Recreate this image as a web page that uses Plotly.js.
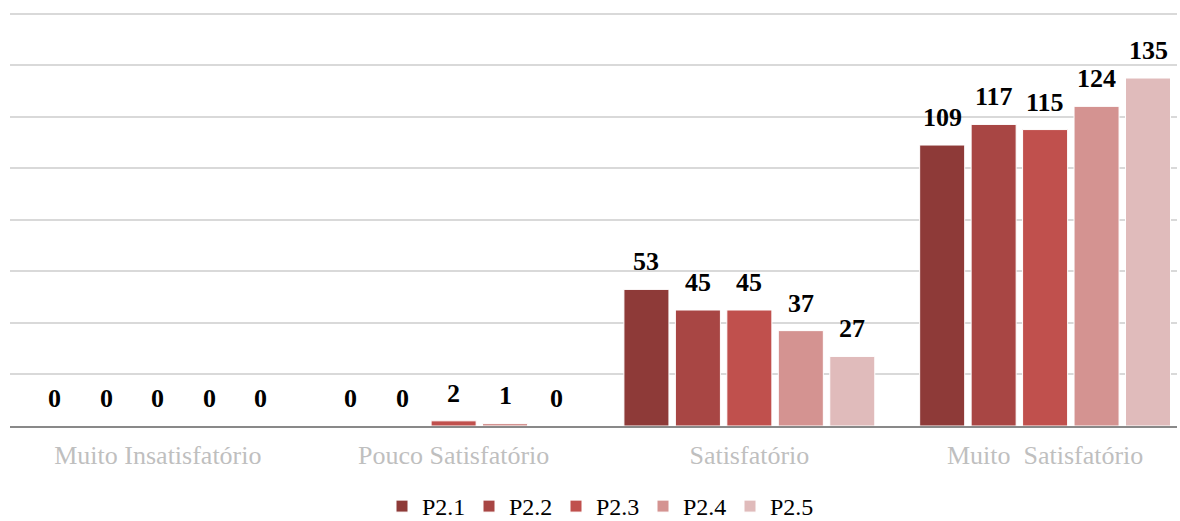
<!DOCTYPE html>
<html>
<head>
<meta charset="utf-8">
<script src="https://cdn.plot.ly/plotly-3.0.1.min.js"></script>
<style>html,body{margin:0;padding:0;background:#fff;}#chart{width:1180px;height:521px;}</style>
</head>
<body>
<div id="chart"></div>
<script>
const categories = ["Muito Insatisfatório", "Pouco Satisfatório", "Satisfatório", "Muito \u00a0Satisfatório"];
const seriesNames = ["P2.1", "P2.2", "P2.3", "P2.4", "P2.5"];
const p21 = [0, 0, 53, 109];
const p22 = [0, 0, 45, 117];
const p23 = [0, 2, 45, 115];
const p24 = [0, 1, 37, 124];
const p25 = [0, 0, 27, 135];
const seriesValues = [p21, p22, p23, p24, p25];
const colors = ["#8E3A38", "#A84644", "#C0504D", "#D49391", "#E0BBBB"];

const W = 1180, H = 521;
const margin = {l: 10, r: 3, t: 11, b: 95, autoexpand: false};
const xRange = [-0.5, 3.446];
const bargap = 0.13, bargroupgap = 0.125;
const plotW = W - margin.l - margin.r;
const plotH = H - margin.t - margin.b;
const pxPerCat = plotW / (xRange[1] - xRange[0]);
const pitch = pxPerCat * (1 - bargap) / seriesNames.length;
const serif = "Liberation Serif, Times New Roman, serif";

const traces = seriesNames.map((name, i) => ({
  type: "bar",
  name: name,
  x: categories,
  y: seriesValues[i],
  marker: {color: colors[i], line: {color: "#ffffff", width: 1}},
  hoverinfo: "none"
}));

const annotations = [];
seriesValues.forEach((vals, i) => {
  vals.forEach((v, j) => {
    annotations.push({
      x: categories[j], y: v, xref: "x", yref: "y",
      text: String(v), showarrow: false,
      xanchor: "center", yanchor: "bottom",
      xshift: (i - (seriesNames.length - 1) / 2) * pitch,
      yshift: 11,
      font: {family: serif, size: 26, color: "#000000", weight: "bold"}
    });
  });
});

const layout = {
  width: W, height: H,
  margin: margin,
  paper_bgcolor: "#ffffff", plot_bgcolor: "#ffffff",
  barmode: "group", bargap: bargap, bargroupgap: bargroupgap,
  showlegend: true,
  legend: {orientation: "h", x: 0.5 + 6 / plotW, xanchor: "center", y: -58 / plotH, yanchor: "top",
           font: {family: serif, size: 24, color: "#000000"},
           itemwidth: 30, entrywidth: 42, entrywidthmode: "pixels", tracegroupgap: 0},
  xaxis: {type: "category", range: xRange, showgrid: false, zeroline: false,
          showline: true, linecolor: "#898989", linewidth: 2, ticks: "",
          ticklabelstandoff: 5,
          tickfont: {family: serif, size: 26, color: "#BFBFBF"}},
  yaxis: {range: [0, 161], dtick: 20, showgrid: true, gridcolor: "#D9D9D9", gridwidth: 2,
          showticklabels: false, zeroline: false, showline: false, ticks: ""},
  annotations: annotations,
  font: {family: serif}
};

Plotly.newPlot("chart", traces, layout, {displayModeBar: false, staticPlot: true});
</script>
</body>
</html>
